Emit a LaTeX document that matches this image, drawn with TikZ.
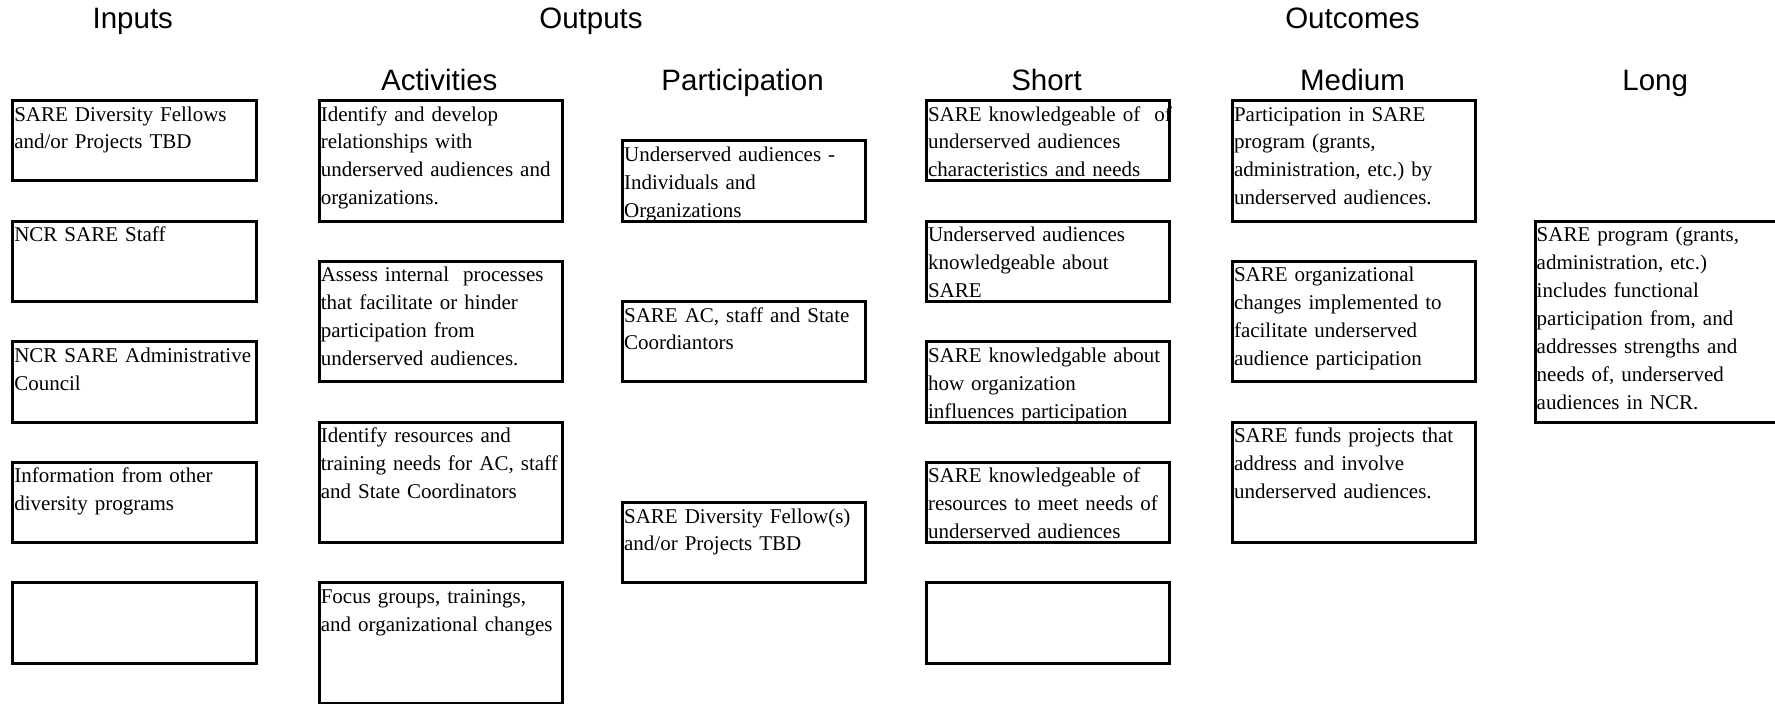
\documentclass[tikz,border=0pt]{standalone}
\usepackage{fontspec}
\setmainfont{Liberation Serif}
\newfontfamily\hdrfont{Liberation Sans}
\frenchspacing
\tikzset{
  lmbox/.style={draw, line width=3pt, inner sep=0pt, minimum width=243.4pt, anchor=north west},
  lmtext/.style={anchor=base west, inner sep=0pt, text width=270pt, align=left,
    font=\fontsize{21pt}{27.9pt}\selectfont},
  hdr/.style={anchor=base, inner sep=0pt, font=\hdrfont\fontsize{29.5pt}{35pt}\selectfont},
}
\newcommand\LMbox[5]{%
  \node[lmbox, minimum height=#4pt] (#1) at (#2,#3) {};
  \node[lmtext] (#1t) at ([xshift=3pt,yshift=-22pt]#1.north west) {#5};}
\newcommand\LMempty[4]{%
  \node[lmbox, minimum height=#4pt] (#1) at (#2,#3) {};}
\begin{document}
\begin{tikzpicture}[x=1pt,y=-1pt]
\useasboundingbox (0,0) rectangle (1775,704);
% headers
\node[hdr] (hin)  at (132.8,28) {Inputs};
\node[hdr] (hout) at (591,28) {Outputs};
\node[hdr] (hoc)  at (1352.5,28) {Outcomes};
\node[hdr] (hact) at (439.3,90) {Activities};
\node[hdr] (hpar) at (742.6,90) {Participation};
\node[hdr] (hsh)  at (1046.5,90) {Short};
\node[hdr] (hme)  at (1352.5,90) {Medium};
\node[hdr] (hlo)  at (1655.2,90) {Long};
% Inputs
\LMbox{i1}{11.1}{99}{80.4}{SARE Diversity Fellows\\and/or Projects TBD}
\LMbox{i2}{11.1}{219.6}{80.4}{NCR SARE Staff}
\LMbox{i3}{11.1}{340.2}{80.4}{NCR SARE Administrative\\Council}
\LMbox{i4}{11.1}{460.8}{80.4}{Information from other\\diversity programs}
\LMempty{i5}{11.1}{581.4}{80.4}
% Activities
\LMbox{a1}{317.6}{99}{120.6}{Identify and develop\\relationships with\\underserved audiences and\\organizations.}
\LMbox{a2}{317.6}{259.8}{120.6}{Assess internal\ \ processes\\that facilitate or hinder\\participation from\\underserved audiences.}
\LMbox{a3}{317.6}{420.6}{120.6}{Identify resources and\\training needs for AC, staff\\and State Coordinators}
\LMbox{a4}{317.6}{581.4}{120.6}{Focus groups, trainings,\\and organizational changes}
% Participation
\LMbox{p1}{620.9}{139.2}{80.4}{Underserved audiences -\\Individuals and\\Organizations}
\LMbox{p2}{620.9}{300}{80.4}{SARE AC, staff and State\\Coordiantors}
\LMbox{p3}{620.9}{501}{80.4}{SARE Diversity Fellow(s)\\and/or Projects TBD}
% Short
\LMbox{s1}{924.8}{99}{80.4}{SARE knowledgeable of\ \ of\\underserved audiences\\characteristics and needs}
\LMbox{s2}{924.8}{219.6}{80.4}{Underserved audiences\\knowledgeable about\\SARE}
\LMbox{s3}{924.8}{340.2}{80.4}{SARE knowledgable about\\how organization\\influences participation}
\LMbox{s4}{924.8}{460.8}{80.4}{SARE knowledgeable of\\resources to meet needs of\\underserved audiences}
\LMempty{s5}{924.8}{581.4}{80.4}
% Medium
\LMbox{m1}{1230.8}{99}{120.6}{Participation in SARE\\program (grants,\\administration, etc.) by\\underserved audiences.}
\LMbox{m2}{1230.8}{259.8}{120.6}{SARE organizational\\changes implemented to\\facilitate underserved\\audience participation}
\LMbox{m3}{1230.8}{420.6}{120.6}{SARE funds projects that\\address and involve\\underserved audiences.}
% Long
\LMbox{l1}{1533.5}{219.6}{201}{SARE program (grants,\\administration, etc.)\\includes functional\\participation from, and\\addresses strengths and\\needs of, underserved\\audiences in NCR.}
\end{tikzpicture}
\end{document}
